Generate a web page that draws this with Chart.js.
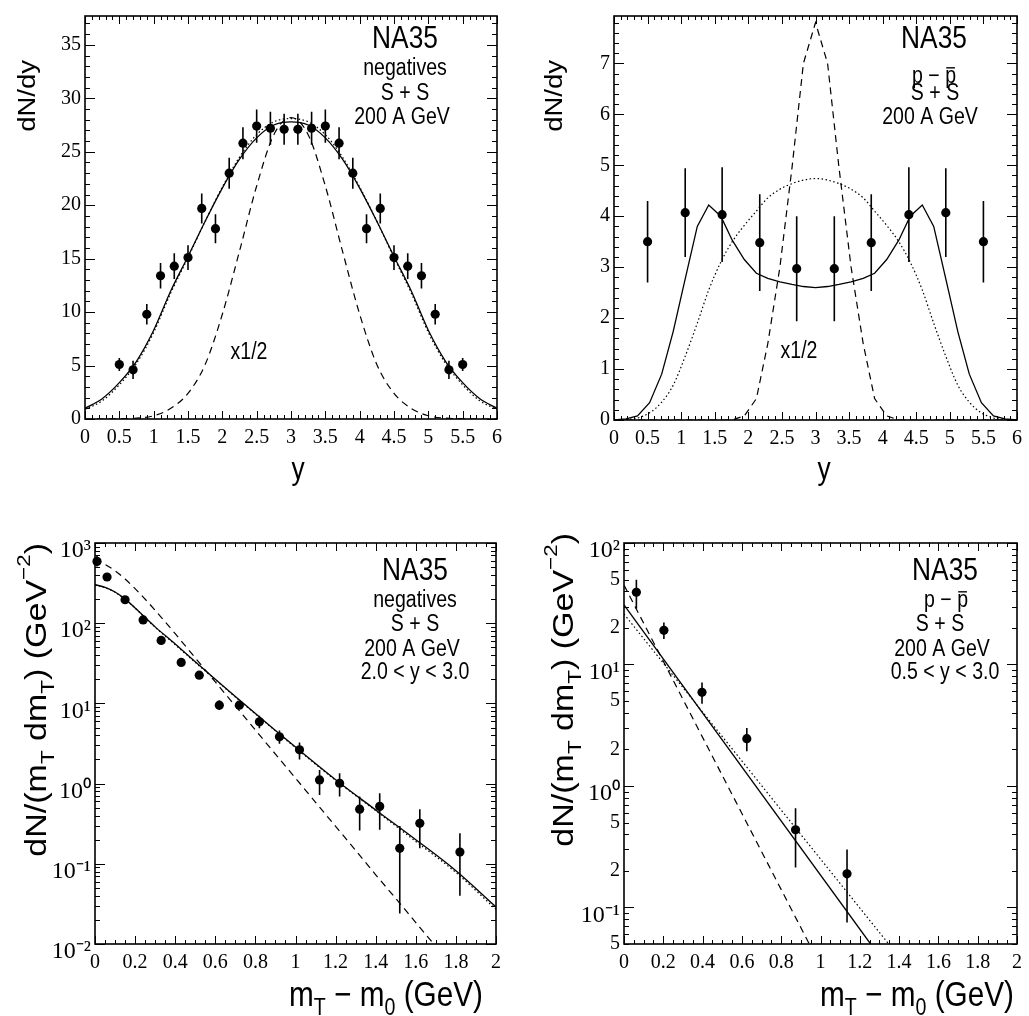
<!DOCTYPE html>
<html><head><meta charset="utf-8">
<script src="https://cdn.jsdelivr.net/npm/chart.js@4.4.1/dist/chart.umd.min.js"></script>
<style>
html,body{margin:0;padding:0;background:#fff;}
#wrap{position:relative;width:1029px;height:1016px;overflow:hidden;}
canvas{position:absolute;}
</style></head><body>
<div id="wrap">
<canvas id="c1" width="514" height="500" style="left:0;top:0;width:514px;height:500px"></canvas>
<canvas id="c2" width="515" height="500" style="left:514px;top:0;width:515px;height:500px"></canvas>
<canvas id="c3" width="514" height="516" style="left:0;top:500px;width:514px;height:516px"></canvas>
<canvas id="c4" width="515" height="516" style="left:514px;top:500px;width:515px;height:516px"></canvas>
</div>
<script>
// ===== Panel (a): negatives, dN/dy vs rapidity =====
const negRapidity = [0.5,0.7,0.9,1.1,1.3,1.5,1.7,1.9,2.1,2.3,2.5,2.7,2.9,3.1,3.3,3.5,3.7,3.9,4.1,4.3,4.5,4.7,4.9,5.1,5.3,5.5];
const negDNdy     = [5.1,4.6,9.8,13.4,14.3,15.1,19.7,17.8,23.0,25.8,27.4,27.2,27.1,27.1,27.2,27.4,25.8,23.0,17.8,19.7,15.1,14.3,13.4,9.8,4.6,5.1];
const negDNdyErr  = [0.6,0.85,0.95,1.2,1.2,1.15,1.4,1.35,1.45,1.5,1.55,1.55,1.45,1.45,1.55,1.55,1.5,1.45,1.35,1.4,1.15,1.2,1.2,0.95,0.85,0.6];
const negCurveY   = [0,0.25,0.5,0.75,1,1.25,1.5,1.75,2,2.25,2.5,2.75,3,3.25,3.5,3.75,4,4.25,4.5,4.75,5,5.25,5.5,5.75,6];
const negSolid    = [1.0,1.9,3.4,5.4,8.3,12.0,15.2,18.5,21.6,24.3,26.3,27.5,27.8,27.5,26.3,24.3,21.6,18.5,15.2,12.0,8.3,5.4,3.4,1.9,1.0];
const negDotted   = [0.9,1.7,3.2,5.2,8.1,11.8,15.1,18.5,21.7,24.5,26.6,27.8,28.1,27.8,26.6,24.5,21.7,18.5,15.1,11.8,8.1,5.2,3.2,1.7,0.9];
const negDashed   = [0,0,0.02,0.08,0.3,1.0,2.4,5.1,9.8,15.7,21.8,26.6,28.2,26.6,21.8,15.7,9.8,5.1,2.4,1.0,0.3,0.08,0.02,0,0];

// ===== Panel (b): p - pbar, dN/dy vs rapidity =====
const ppRapidity = [0.5,1.06,1.61,2.17,2.72,3.28,3.83,4.39,4.94,5.5];
const ppDNdy     = [3.5,4.07,4.03,3.48,2.97,2.97,3.48,4.03,4.07,3.5];
const ppDNdyErr  = [0.8,0.87,0.93,0.95,1.03,1.03,0.95,0.93,0.87,0.8];
const ppCurveY   = [0,0.18,0.35,0.53,0.71,0.88,1.06,1.24,1.41,1.59,1.76,1.94,2.12,2.29,2.47,2.65,2.82,3.0,3.18,3.35,3.53,3.71,3.88,4.06,4.24,4.41,4.59,4.76,4.94,5.12,5.29,5.47,5.65,5.82,6.0];
const ppSolid    = [0,0.02,0.08,0.34,0.9,1.73,2.77,3.8,4.22,4.0,3.53,3.15,2.88,2.78,2.71,2.66,2.62,2.6,2.62,2.66,2.71,2.78,2.88,3.15,3.53,4.0,4.22,3.8,2.77,1.73,0.9,0.34,0.08,0.02,0];
const ppDotted   = [0,0.01,0.04,0.14,0.35,0.68,1.25,1.9,2.55,3.1,3.5,3.82,4.1,4.36,4.53,4.64,4.71,4.74,4.71,4.64,4.53,4.36,4.1,3.82,3.5,3.1,2.55,1.9,1.25,0.68,0.35,0.14,0.04,0.01,0];
const ppDashed   = [0,0,0,0,0,0,0,0,0,0,0,0.08,0.42,1.5,3.0,4.95,7.0,7.8,7.0,4.95,3.0,1.5,0.42,0.08,0,0,0,0,0,0,0,0,0,0,0];

// ===== Panel (c): negatives, m_T spectrum =====
const negMt       = [0.01,0.06,0.15,0.24,0.33,0.43,0.52,0.62,0.72,0.82,0.92,1.02,1.12,1.22,1.32,1.42,1.52,1.62,1.82];
const negSpec     = [590,377,196,110,61,32.4,22.5,9.5,9.5,5.9,3.83,2.64,1.11,1.01,0.48,0.52,0.156,0.32,0.14];
const negSpecLow  = [510,350,185,104,57,30.5,21,8.3,8.5,4.9,3.13,2.0,0.72,0.69,0.26,0.265,0.024,0.156,0.04];
const negSpecHigh = [700,405,208,117,65,34.5,24,10.9,10.5,7.0,4.6,3.25,1.48,1.35,0.69,0.76,0.297,0.48,0.24];
const negMtCurveX = [0,0.05,0.1,0.15,0.2,0.3,0.4,0.5,0.6,0.7,0.8,0.9,1.0,1.2,1.4,1.6,1.8,2.0];
const negMtSolid  = [302,280,245,200,155,90,55,33,20,12.2,7.5,4.6,2.85,1.12,0.47,0.2,0.082,0.029];
const negMtDotted = [300,278,243,199,154,89,54,32.5,19.8,12.0,7.4,4.55,2.8,1.1,0.46,0.19,0.078,0.027];
const negMtDashX  = [0,0.05,0.1,0.15,0.2,0.3,0.4,0.5,0.6,0.7,0.8,0.9,1.0,1.1,1.2,1.3,1.4,1.5,1.6,1.7];
const negMtDashed = [630,540,450,355,270,145,74,37,18.5,9.3,4.66,2.33,1.17,0.585,0.293,0.147,0.073,0.037,0.0185,0.0093];

// ===== Panel (d): p - pbar, m_T spectrum =====
const ppMt       = [0.063,0.203,0.397,0.625,0.873,1.135];
const ppSpec     = [39.3,19.1,5.9,2.45,0.436,0.189];
const ppSpecLow  = [28.7,16.2,4.75,1.93,0.213,0.075];
const ppSpecHigh = [49.9,22.2,7.1,3.0,0.656,0.30];
const ppSolidX   = [0,1.255];   const ppSolidV  = [31,0.05];
const ppDottedX  = [0,1.347];   const ppDottedV = [26,0.05];
const ppDashedX  = [0,0.943];   const ppDashedV = [45,0.05];

// ===== Tick values and labels =====
const rapTicks   = [0,0.5,1,1.5,2,2.5,3,3.5,4,4.5,5,5.5,6];
const rapLabels  = ['0','0.5','1','1.5','2','2.5','3','3.5','4','4.5','5','5.5','6'];
const negYTicks  = [0,5,10,15,20,25,30,35];
const negYLabels = ['0','5','10','15','20','25','30','35'];
const ppYTicks   = [0,1,2,3,4,5,6,7];
const ppYLabels  = ['0','1','2','3','4','5','6','7'];
const mtTicks    = [0,0.2,0.4,0.6,0.8,1,1.2,1.4,1.6,1.8,2];
const mtLabels   = ['0','0.2','0.4','0.6','0.8','1','1.2','1.4','1.6','1.8','2'];
const negLogTicks  = [0.01,0.1,1,10,100,1000];
const negLogLabels = ['10\u207B\u00B2','10\u207B\u00B9','10\u2070','10\u00B9','10\u00B2','10\u00B3'];
const ppLogTicks   = [0.05,0.1,0.2,0.5,1,2,5,10,20,50,100];
const ppLogLabels  = ['5','10\u207B\u00B9','2','5','10\u2070','2','5','10\u00B9','2','5','10\u00B2'];
const ppLogDecades = [0.1,1,10,100];

// ===== helpers =====
const SERIF = '"Liberation Serif", "Times New Roman", Times, serif';
const SANS = '"Liberation Sans", Arial, Helvetica, sans-serif';
const TEXT_SX = 0.85;
const TICK_SIZE = 20, DECADE_SIZE = 24;

function range(a, b, step) { const r = []; const n = Math.round((b - a) / step); for (let i = 0; i <= n; i++) r.push(+(a + i * step).toFixed(6)); return r; }
function logMinors(lo, hi) { const r = []; for (let d = Math.floor(Math.log10(lo)); d <= Math.ceil(Math.log10(hi)); d++) for (let m = 2; m <= 9; m++) { const v = m * Math.pow(10, d); if (v >= lo * 0.999 && v <= hi * 1.001) r.push(v); } return r; }
const pts = (xs, ys) => xs.map((x, i) => ({ x: x, y: ys[i] }));

function drawRich(ctx, it) {
  const size = it.size;
  ctx.save();
  ctx.translate(it.x, it.y);
  ctx.scale(TEXT_SX, 1);
  if (it.rotate) ctx.rotate(-Math.PI / 2);
  ctx.fillStyle = '#000'; ctx.strokeStyle = '#000';
  ctx.textBaseline = 'alphabetic'; ctx.textAlign = 'left';
  const segs = it.parts.map(p => {
    const s = (p.sub || p.sup) ? size * 0.66 : size;
    ctx.font = s + 'px ' + SANS;
    return { p: p, s: s, w: ctx.measureText(p.t).width };
  });
  const total = segs.reduce((a, b) => a + b.w, 0);
  let cx = it.align === 'right' ? -total : it.align === 'center' ? -total / 2 : 0;
  segs.forEach(sg => {
    ctx.font = sg.s + 'px ' + SANS;
    const dy = sg.p.sub ? size * 0.27 : sg.p.sup ? -size * 0.55 : 0;
    ctx.fillText(sg.p.t, cx, dy);
    if (sg.p.over) {
      ctx.lineWidth = Math.max(1, size * 0.06);
      ctx.beginPath(); ctx.moveTo(cx + sg.w * 0.1, -size * 0.66); ctx.lineTo(cx + sg.w * 0.9, -size * 0.66); ctx.stroke();
    }
    cx += sg.w;
  });
  ctx.restore();
}
function textPlugin(items) { return { id: 'texts', afterDraw(chart) { items.forEach(it => drawRich(chart.ctx, it)); } }; }

function framePlugin(cfg) {
  return { id: 'frameTicks', afterDatasetsDraw(chart) {
    const ctx = chart.ctx, a = chart.chartArea, xs = chart.scales.x, ys = chart.scales.y;
    ctx.save(); ctx.strokeStyle = '#000'; ctx.lineWidth = 1; ctx.beginPath();
    const xt = (list, len) => list.forEach(v => { const p = Math.round(xs.getPixelForValue(v)) + 0.5; ctx.moveTo(p, a.bottom); ctx.lineTo(p, a.bottom - len); ctx.moveTo(p, a.top); ctx.lineTo(p, a.top + len); });
    const yt = (list, len) => list.forEach(v => { const p = Math.round(ys.getPixelForValue(v)) + 0.5; ctx.moveTo(a.left, p); ctx.lineTo(a.left + len, p); ctx.moveTo(a.right, p); ctx.lineTo(a.right - len, p); });
    xt(cfg.xMajor, 8); xt(cfg.xMinor, 4); yt(cfg.yMajor, 10); yt(cfg.yMinor, 5);
    ctx.stroke();
    ctx.lineWidth = 1.6;
    ctx.strokeRect(a.left, a.top, a.right - a.left, a.bottom - a.top);
    ctx.restore();
  } };
}
function errorPlugin(dsIndex, xsArr, lows, highs) {
  return { id: 'errbars', beforeDatasetDraw(chart, args) {
    if (args.index !== dsIndex) return;
    const ctx = chart.ctx, sx = chart.scales.x, sy = chart.scales.y;
    ctx.save(); ctx.strokeStyle = '#000'; ctx.lineWidth = 1.6; ctx.beginPath();
    xsArr.forEach((x, i) => { const px = sx.getPixelForValue(x); ctx.moveTo(px, sy.getPixelForValue(lows[i])); ctx.lineTo(px, sy.getPixelForValue(highs[i])); });
    ctx.stroke(); ctx.restore();
  } };
}
function pointsDs(xs, ys) { return { data: pts(xs, ys), showLine: false, pointRadius: 4.6, pointHoverRadius: 4.6, pointBackgroundColor: '#000', pointBorderWidth: 0, clip: false }; }
function curveDs(xs, ys, style, smooth) {
  return { data: pts(xs, ys), showLine: true, pointRadius: 0, pointHoverRadius: 0, borderColor: '#000', fill: false,
    borderWidth: style === 'solid' ? 1.3 : 1.2,
    borderDash: style === 'dashed' ? [7, 5] : style === 'dotted' ? [1.5, 2.5] : [],
    cubicInterpolationMode: smooth ? 'monotone' : 'default', tension: 0 };
}
function xAxis(min, max, ticks, labels, height) {
  return { type: 'linear', min: min, max: max, grid: { display: false, drawTicks: false }, border: { display: false },
    afterFit: s => { s.height = height; },
    afterBuildTicks: s => { s.ticks = ticks.map(v => ({ value: v })); },
    ticks: { autoSkip: false, maxRotation: 0, minRotation: 0, padding: 7, color: '#000', font: { family: SERIF, size: TICK_SIZE }, callback: (v, i) => labels[i] } };
}
function yAxis(type, min, max, ticks, labels, width) {
  // decade labels (10^n) are larger and sit half a line lower, like the superscript-centred originals
  const isDecade = i => type === 'logarithmic' && labels[i].indexOf('10') === 0;
  return { type: type, position: 'left', min: min, max: max, grid: { display: false, drawTicks: false }, border: { display: false },
    afterFit: s => { s.width = width; },
    afterBuildTicks: s => { s.ticks = ticks.map(v => ({ value: v })); },
    ticks: { autoSkip: false, padding: 4, color: '#000',
      font: c => isDecade(c.index) ? { family: SERIF, size: DECADE_SIZE, lineHeight: 0.66 } : { family: SERIF, size: TICK_SIZE },
      callback: (v, i) => isDecade(i) ? ['', labels[i]] : labels[i] } };
}
function baseOptions(padding, scales) {
  return { responsive: false, animation: false, devicePixelRatio: 1, events: [],
    layout: { padding: padding, autoPadding: false },
    plugins: { legend: { display: false }, tooltip: { enabled: false } },
    scales: scales };
}
const T = (t, o) => Object.assign({ t: t }, o || {});
const mtTitle = [T('m'), T('T', { sub: true }), T(' \u2212 m'), T('0', { sub: true }), T(' (GeV)')];
const specTitle = [T('dN/(m'), T('T', { sub: true }), T(' dm'), T('T', { sub: true }), T(') (GeV'), T('\u22122', { sup: true }), T(')')];

// ===== Chart (a) =====
new Chart(document.getElementById('c1'), {
  type: 'scatter',
  data: { datasets: [
    pointsDs(negRapidity, negDNdy),
    curveDs(negCurveY, negSolid, 'solid', true),
    curveDs(negCurveY, negDotted, 'dotted', true),
    curveDs(negCurveY, negDashed, 'dashed', true)
  ] },
  options: baseOptions({ left: 0, right: 17, top: 10, bottom: 0 }, {
    x: xAxis(0, 6, rapTicks, rapLabels, 81),
    y: yAxis('linear', 0, 37.7, negYTicks, negYLabels, 85)
  }),
  plugins: [
    errorPlugin(0, negRapidity, negDNdy.map((v, i) => v - negDNdyErr[i]), negDNdy.map((v, i) => v + negDNdyErr[i])),
    framePlugin({ xMajor: rapTicks, xMinor: range(0, 6, 0.1), yMajor: negYTicks, yMinor: range(0, 37, 1) }),
    textPlugin([
      { parts: [T('dN/dy')], x: 35, y: 60, size: 27.5, align: 'right', rotate: true },
      { parts: [T('y')], x: 298, y: 479, size: 31, align: 'center' },
      { parts: [T('NA35')], x: 405, y: 48, size: 31, align: 'center' },
      { parts: [T('negatives')], x: 405, y: 75, size: 23, align: 'center' },
      { parts: [T('S + S')], x: 405, y: 100, size: 23, align: 'center' },
      { parts: [T('200 A GeV')], x: 402, y: 124, size: 23, align: 'center' },
      { parts: [T('x1/2')], x: 249, y: 359, size: 23, align: 'center' }
    ])
  ]
});

// ===== Chart (b) =====
new Chart(document.getElementById('c2'), {
  type: 'scatter',
  data: { datasets: [
    pointsDs(ppRapidity, ppDNdy),
    curveDs(ppCurveY, ppSolid, 'solid', false),
    curveDs(ppCurveY, ppDotted, 'dotted', true),
    curveDs(ppCurveY, ppDashed, 'dashed', false)
  ] },
  options: baseOptions({ left: 0, right: 4, top: 10, bottom: 0 }, {
    x: xAxis(0, 6, rapTicks, rapLabels, 80),
    y: yAxis('linear', 0, 7.93, ppYTicks, ppYLabels, 100)
  }),
  plugins: [
    errorPlugin(0, ppRapidity, ppDNdy.map((v, i) => v - ppDNdyErr[i]), ppDNdy.map((v, i) => v + ppDNdyErr[i])),
    framePlugin({ xMajor: rapTicks, xMinor: range(0, 6, 0.1), yMajor: ppYTicks, yMinor: range(0, 7.8, 0.2) }),
    textPlugin([
      { parts: [T('dN/dy')], x: 48, y: 60, size: 27.5, align: 'right', rotate: true },
      { parts: [T('y')], x: 310, y: 479, size: 31, align: 'center' },
      { parts: [T('NA35')], x: 420, y: 48, size: 31, align: 'center' },
      { parts: [T('p \u2212 '), T('p', { over: true })], x: 420, y: 83, size: 23, align: 'center' },
      { parts: [T('S + S')], x: 421, y: 100, size: 23, align: 'center' },
      { parts: [T('200 A GeV')], x: 416, y: 124, size: 23, align: 'center' },
      { parts: [T('x1/2')], x: 285, y: 358, size: 23, align: 'center' }
    ])
  ]
});

// ===== Chart (c) =====
new Chart(document.getElementById('c3'), {
  type: 'scatter',
  data: { datasets: [
    pointsDs(negMt, negSpec),
    curveDs(negMtCurveX, negMtSolid, 'solid', true),
    curveDs(negMtCurveX, negMtDotted, 'dotted', true),
    curveDs(negMtDashX, negMtDashed, 'dashed', true)
  ] },
  options: baseOptions({ left: 0, right: 18, top: 43, bottom: 0 }, {
    x: xAxis(0, 2, mtTicks, mtLabels, 72),
    y: yAxis('logarithmic', 0.01, 1000, negLogTicks, negLogLabels, 95)
  }),
  plugins: [
    errorPlugin(0, negMt, negSpecLow, negSpecHigh),
    framePlugin({ xMajor: mtTicks, xMinor: range(0, 2, 0.05), yMajor: negLogTicks, yMinor: logMinors(0.01, 1000) }),
    textPlugin([
      { parts: specTitle, x: 46, y: 43, size: 34, align: 'right', rotate: true },
      { parts: mtTitle, x: 483, y: 506, size: 35, align: 'right' },
      { parts: [T('NA35')], x: 415, y: 80, size: 31, align: 'center' },
      { parts: [T('negatives')], x: 415, y: 107, size: 23, align: 'center' },
      { parts: [T('S + S')], x: 415, y: 131, size: 23, align: 'center' },
      { parts: [T('200 A GeV')], x: 412, y: 156, size: 23, align: 'center' },
      { parts: [T('2.0 < y < 3.0')], x: 415, y: 179, size: 23, align: 'center' }
    ])
  ]
});

// ===== Chart (d) =====
new Chart(document.getElementById('c4'), {
  type: 'scatter',
  data: { datasets: [
    pointsDs(ppMt, ppSpec),
    curveDs(ppSolidX, ppSolidV, 'solid', false),
    curveDs(ppDottedX, ppDottedV, 'dotted', false),
    curveDs(ppDashedX, ppDashedV, 'dashed', false)
  ] },
  options: baseOptions({ left: 0, right: 4, top: 43, bottom: 0 }, {
    x: xAxis(0, 2, mtTicks, mtLabels, 72),
    y: yAxis('logarithmic', 0.05, 100, ppLogTicks, ppLogLabels, 110)
  }),
  plugins: [
    errorPlugin(0, ppMt, ppSpecLow, ppSpecHigh),
    framePlugin({ xMajor: mtTicks, xMinor: range(0, 2, 0.05), yMajor: ppLogDecades, yMinor: logMinors(0.05, 100) }),
    textPlugin([
      { parts: specTitle, x: 59, y: 33, size: 34, align: 'right', rotate: true },
      { parts: mtTitle, x: 500, y: 506, size: 35, align: 'right' },
      { parts: [T('NA35')], x: 431, y: 80, size: 31, align: 'center' },
      { parts: [T('p \u2212 '), T('p', { over: true })], x: 432, y: 107, size: 23, align: 'center' },
      { parts: [T('S + S')], x: 426, y: 131, size: 23, align: 'center' },
      { parts: [T('200 A GeV')], x: 428, y: 156, size: 23, align: 'center' },
      { parts: [T('0.5 < y < 3.0')], x: 431, y: 179, size: 23, align: 'center' }
    ])
  ]
});
</script>
</body></html>
